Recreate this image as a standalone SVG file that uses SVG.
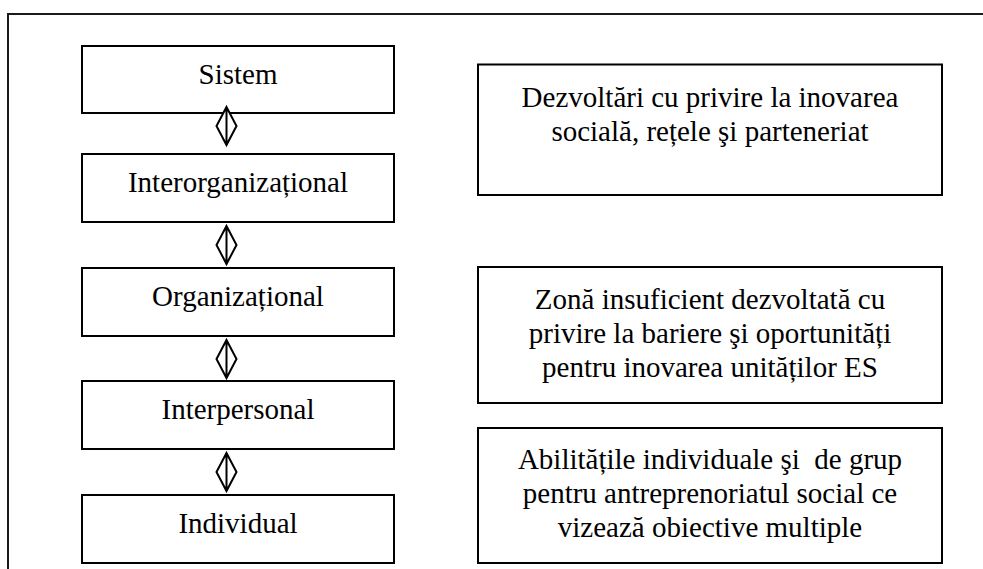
<svg xmlns="http://www.w3.org/2000/svg" width="983" height="569" viewBox="0 0 983 569">
<style>
.box{fill:#fff;stroke:#000;stroke-width:2}
.frame{fill:none;stroke:#1a1a1a;stroke-width:2}
.t{font-size:29px;fill:#000;text-anchor:middle;font-weight:normal}
.dia{fill:#fff;stroke:#000;stroke-width:2;stroke-linejoin:miter}
</style>
<defs>
<g id="dm"><path class="dia" d="M0,0 L10,19 L0,38 L-10,19 Z M0,0 L0,38"/></g>
</defs>
<rect width="983" height="569" fill="#fff"/>
<rect class="frame" x="8" y="14" width="1000" height="600"/>
<g font-family="Liberation Serif, Times New Roman, DejaVu Serif, serif">
<g id="n-sistem"><rect class="box" x="82" y="46" width="312" height="67"/><text class="t" x="238" y="83.5">Sistem</text></g>
<g id="n-interorg"><rect class="box" x="82" y="154" width="312" height="68"/><text class="t" x="238" y="192">Interorganizațional</text></g>
<g id="n-org"><rect class="box" x="82" y="268" width="312" height="68"/><text class="t" x="238" y="306">Organizațional</text></g>
<g id="n-interpers"><rect class="box" x="82" y="381" width="312" height="68"/><text class="t" x="238" y="419">Interpersonal</text></g>
<g id="n-indiv"><rect class="box" x="82" y="495" width="312" height="68"/><text class="t" x="238" y="533">Individual</text></g>
<g id="n-dezv"><rect class="box" x="478" y="64.5" width="464" height="130.5"/><text class="t" x="710" y="106.5">Dezvoltări cu privire la inovarea</text><text class="t" x="710" y="140.5">socială, rețele şi parteneriat</text></g>
<g id="n-zona"><rect class="box" x="478" y="267" width="464" height="136"/><text class="t" x="710" y="309">Zonă insuficient dezvoltată cu</text><text class="t" x="710" y="343">privire la bariere şi oportunități</text><text class="t" x="710" y="377">pentru inovarea unităților ES</text></g>
<g id="n-abil"><rect class="box" x="478" y="428" width="464" height="135"/><text class="t" x="710" y="469" xml:space="preserve">Abilitățile individuale şi  de grup</text><text class="t" x="710" y="503">pentru antreprenoriatul social ce</text><text class="t" x="710" y="537">vizează obiective multiple</text></g>
</g>
<g id="connectors">
<use href="#dm" x="226.5" y="107"/>
<use href="#dm" x="226.5" y="226"/>
<use href="#dm" x="226.5" y="340"/>
<use href="#dm" x="226.5" y="453"/>
</g>
</svg>
